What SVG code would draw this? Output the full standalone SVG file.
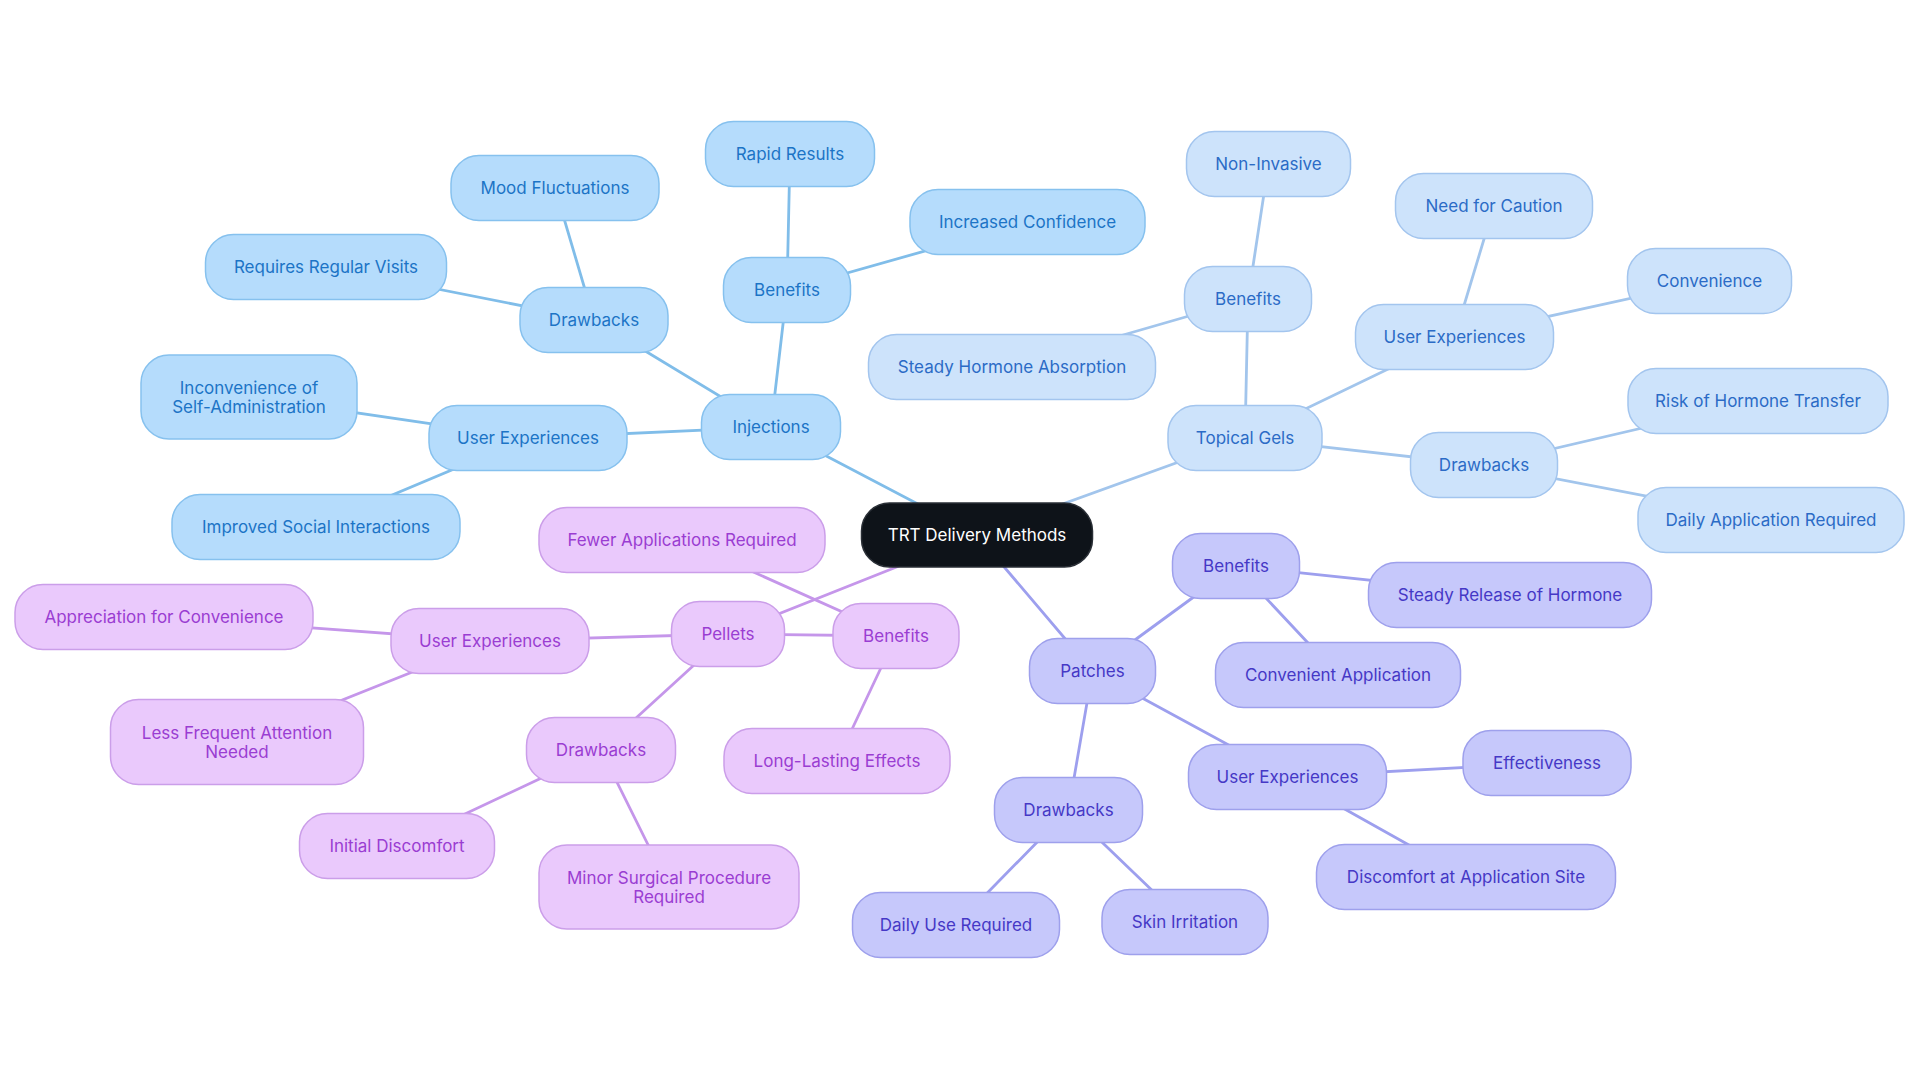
<svg xmlns="http://www.w3.org/2000/svg" width="1920" height="1083" viewBox="0 0 1920 1083">
<style>
text{font-family:Inter,"Noto Sans","Liberation Sans",sans-serif;font-size:17px;text-anchor:middle}
.e{fill:none;stroke-linecap:round}
.e0{stroke:#80bde9;stroke-width:2.8}
.e1{stroke:#a2c5ec;stroke-width:2.8}
.e2{stroke:#c596ea;stroke-width:2.8}
.e3{stroke:#9d9fee;stroke-width:2.8}
.s0 rect{fill:#b5dcfc;stroke:#86c1ee;stroke-width:1.5}
.s0 text{fill:#1c74c6}
.s1 rect{fill:#cde3fb;stroke:#a3c5ee;stroke-width:1.5}
.s1 text{fill:#2b6bc6}
.s2 rect{fill:#eac9fc;stroke:#cb9ee9;stroke-width:1.5}
.s2 text{fill:#9a3dd2}
.s3 rect{fill:#c6c8fb;stroke:#9ea0ec;stroke-width:1.5}
.s3 text{fill:#4538c6}
.root rect{fill:#0e1319;stroke:#2a2f36;stroke-width:1.5}
.root text{fill:#ffffff}
</style>
<rect width="1920" height="1083" fill="#ffffff"/>
<g id="connectors">
<line class="e e0" x1="977" y1="535" x2="771" y2="427"/>
<line class="e e1" x1="977" y1="535" x2="1245" y2="438"/>
<line class="e e2" x1="977" y1="535" x2="728" y2="634"/>
<line class="e e3" x1="977" y1="535" x2="1092.5" y2="671"/>
<line class="e e0" x1="771" y1="427" x2="787" y2="290"/>
<line class="e e0" x1="771" y1="427" x2="594" y2="320"/>
<line class="e e0" x1="771" y1="427" x2="528" y2="438"/>
<line class="e e0" x1="787" y1="290" x2="790" y2="154"/>
<line class="e e0" x1="787" y1="290" x2="1027.5" y2="222"/>
<line class="e e0" x1="594" y1="320" x2="555" y2="188"/>
<line class="e e0" x1="594" y1="320" x2="326" y2="267"/>
<line class="e e0" x1="528" y1="438" x2="249" y2="397"/>
<line class="e e0" x1="528" y1="438" x2="316" y2="527"/>
<line class="e e1" x1="1245" y1="438" x2="1248" y2="299"/>
<line class="e e1" x1="1245" y1="438" x2="1454.5" y2="337"/>
<line class="e e1" x1="1245" y1="438" x2="1484" y2="465"/>
<line class="e e1" x1="1248" y1="299" x2="1268.5" y2="164"/>
<line class="e e1" x1="1248" y1="299" x2="1012" y2="367"/>
<line class="e e1" x1="1454.5" y1="337" x2="1494" y2="206"/>
<line class="e e1" x1="1454.5" y1="337" x2="1709.5" y2="281"/>
<line class="e e1" x1="1484" y1="465" x2="1758" y2="401"/>
<line class="e e1" x1="1484" y1="465" x2="1771" y2="520"/>
<line class="e e2" x1="728" y1="634" x2="896" y2="636"/>
<line class="e e2" x1="728" y1="634" x2="490" y2="641"/>
<line class="e e2" x1="728" y1="634" x2="601" y2="750"/>
<line class="e e2" x1="896" y1="636" x2="682" y2="540"/>
<line class="e e2" x1="896" y1="636" x2="837" y2="761"/>
<line class="e e2" x1="490" y1="641" x2="164" y2="617"/>
<line class="e e2" x1="490" y1="641" x2="237" y2="742"/>
<line class="e e2" x1="601" y1="750" x2="397" y2="846"/>
<line class="e e2" x1="601" y1="750" x2="669" y2="887"/>
<line class="e e3" x1="1092.5" y1="671" x2="1236" y2="566"/>
<line class="e e3" x1="1092.5" y1="671" x2="1287.5" y2="777"/>
<line class="e e3" x1="1092.5" y1="671" x2="1068.5" y2="810"/>
<line class="e e3" x1="1236" y1="566" x2="1510" y2="595"/>
<line class="e e3" x1="1236" y1="566" x2="1338" y2="675"/>
<line class="e e3" x1="1287.5" y1="777" x2="1547" y2="763"/>
<line class="e e3" x1="1287.5" y1="777" x2="1466" y2="877"/>
<line class="e e3" x1="1068.5" y1="810" x2="956" y2="925"/>
<line class="e e3" x1="1068.5" y1="810" x2="1185" y2="922"/>
</g>
<g id="root" class="root"><rect x="861.5" y="503" width="231" height="64" rx="28"/><text x="977" y="541">TRT Delivery Methods</text></g>

<g id="injections" class="s0"><rect x="701.5" y="394.5" width="139" height="65" rx="28"/><text x="771" y="433">Injections</text></g>
<g id="inj-benefits" class="s0"><rect x="723.5" y="257.5" width="127" height="65" rx="28"/><text x="787" y="296">Benefits</text></g>
<g id="inj-rapid" class="s0"><rect x="705.5" y="121.5" width="169" height="65" rx="28"/><text x="790" y="160">Rapid Results</text></g>
<g id="inj-confidence" class="s0"><rect x="910" y="189.5" width="235" height="65" rx="28"/><text x="1027.5" y="228">Increased Confidence</text></g>
<g id="inj-drawbacks" class="s0"><rect x="520" y="287.5" width="148" height="65" rx="28"/><text x="594" y="326">Drawbacks</text></g>
<g id="inj-mood" class="s0"><rect x="451" y="155.5" width="208" height="65" rx="28"/><text x="555" y="194">Mood Fluctuations</text></g>
<g id="inj-visits" class="s0"><rect x="205.5" y="234.5" width="241" height="65" rx="28"/><text x="326" y="273">Requires Regular Visits</text></g>
<g id="inj-userexp" class="s0"><rect x="429" y="405.5" width="198" height="65" rx="28"/><text x="528" y="444">User Experiences</text></g>
<g id="inj-inconvenience" class="s0"><rect x="141" y="355" width="216" height="84" rx="28"/><text x="249" y="393.5">Inconvenience of</text><text x="249" y="412.5">Self-Administration</text></g>
<g id="inj-social" class="s0"><rect x="172" y="494.5" width="288" height="65" rx="28"/><text x="316" y="533">Improved Social Interactions</text></g>

<g id="gels" class="s1"><rect x="1168" y="405.5" width="154" height="65" rx="28"/><text x="1245" y="444">Topical Gels</text></g>
<g id="gel-benefits" class="s1"><rect x="1184.5" y="266.5" width="127" height="65" rx="28"/><text x="1248" y="305">Benefits</text></g>
<g id="gel-noninvasive" class="s1"><rect x="1186.5" y="131.5" width="164" height="65" rx="28"/><text x="1268.5" y="170">Non-Invasive</text></g>
<g id="gel-absorption" class="s1"><rect x="868.5" y="334.5" width="287" height="65" rx="28"/><text x="1012" y="373">Steady Hormone Absorption</text></g>
<g id="gel-userexp" class="s1"><rect x="1355.5" y="304.5" width="198" height="65" rx="28"/><text x="1454.5" y="343">User Experiences</text></g>
<g id="gel-caution" class="s1"><rect x="1395.5" y="173.5" width="197" height="65" rx="28"/><text x="1494" y="212">Need for Caution</text></g>
<g id="gel-convenience" class="s1"><rect x="1627.5" y="248.5" width="164" height="65" rx="28"/><text x="1709.5" y="287">Convenience</text></g>
<g id="gel-drawbacks" class="s1"><rect x="1410.5" y="432.5" width="147" height="65" rx="28"/><text x="1484" y="471">Drawbacks</text></g>
<g id="gel-transfer" class="s1"><rect x="1628" y="368.5" width="260" height="65" rx="28"/><text x="1758" y="407">Risk of Hormone Transfer</text></g>
<g id="gel-daily" class="s1"><rect x="1638" y="487.5" width="266" height="65" rx="28"/><text x="1771" y="526">Daily Application Required</text></g>

<g id="pellets" class="s2"><rect x="671.5" y="601.5" width="113" height="65" rx="28"/><text x="728" y="640">Pellets</text></g>
<g id="pel-benefits" class="s2"><rect x="833" y="603.5" width="126" height="65" rx="28"/><text x="896" y="642">Benefits</text></g>
<g id="pel-fewer" class="s2"><rect x="539" y="507.5" width="286" height="65" rx="28"/><text x="682" y="546">Fewer Applications Required</text></g>
<g id="pel-lasting" class="s2"><rect x="724" y="728.5" width="226" height="65" rx="28"/><text x="837" y="767">Long-Lasting Effects</text></g>
<g id="pel-userexp" class="s2"><rect x="391" y="608.5" width="198" height="65" rx="28"/><text x="490" y="647">User Experiences</text></g>
<g id="pel-appreciation" class="s2"><rect x="15" y="584.5" width="298" height="65" rx="28"/><text x="164" y="623">Appreciation for Convenience</text></g>
<g id="pel-attention" class="s2"><rect x="110.5" y="699.5" width="253" height="85" rx="28"/><text x="237" y="738.5">Less Frequent Attention</text><text x="237" y="757.5">Needed</text></g>
<g id="pel-drawbacks" class="s2"><rect x="526.5" y="717.5" width="149" height="65" rx="28"/><text x="601" y="756">Drawbacks</text></g>
<g id="pel-discomfort" class="s2"><rect x="299.5" y="813.5" width="195" height="65" rx="28"/><text x="397" y="852">Initial Discomfort</text></g>
<g id="pel-surgical" class="s2"><rect x="539" y="845" width="260" height="84" rx="28"/><text x="669" y="883.5">Minor Surgical Procedure</text><text x="669" y="902.5">Required</text></g>

<g id="patches" class="s3"><rect x="1029.5" y="638.5" width="126" height="65" rx="28"/><text x="1092.5" y="677">Patches</text></g>
<g id="pat-benefits" class="s3"><rect x="1172.5" y="533.5" width="127" height="65" rx="28"/><text x="1236" y="572">Benefits</text></g>
<g id="pat-release" class="s3"><rect x="1368.5" y="562.5" width="283" height="65" rx="28"/><text x="1510" y="601">Steady Release of Hormone</text></g>
<g id="pat-convenient" class="s3"><rect x="1215.5" y="642.5" width="245" height="65" rx="28"/><text x="1338" y="681">Convenient Application</text></g>
<g id="pat-userexp" class="s3"><rect x="1188.5" y="744.5" width="198" height="65" rx="28"/><text x="1287.5" y="783">User Experiences</text></g>
<g id="pat-effectiveness" class="s3"><rect x="1463" y="730.5" width="168" height="65" rx="28"/><text x="1547" y="769">Effectiveness</text></g>
<g id="pat-site" class="s3"><rect x="1316.5" y="844.5" width="299" height="65" rx="28"/><text x="1466" y="883">Discomfort at Application Site</text></g>
<g id="pat-drawbacks" class="s3"><rect x="994.5" y="777.5" width="148" height="65" rx="28"/><text x="1068.5" y="816">Drawbacks</text></g>
<g id="pat-dailyuse" class="s3"><rect x="852.5" y="892.5" width="207" height="65" rx="28"/><text x="956" y="931">Daily Use Required</text></g>
<g id="pat-irritation" class="s3"><rect x="1102" y="889.5" width="166" height="65" rx="28"/><text x="1185" y="928">Skin Irritation</text></g>
</svg>
